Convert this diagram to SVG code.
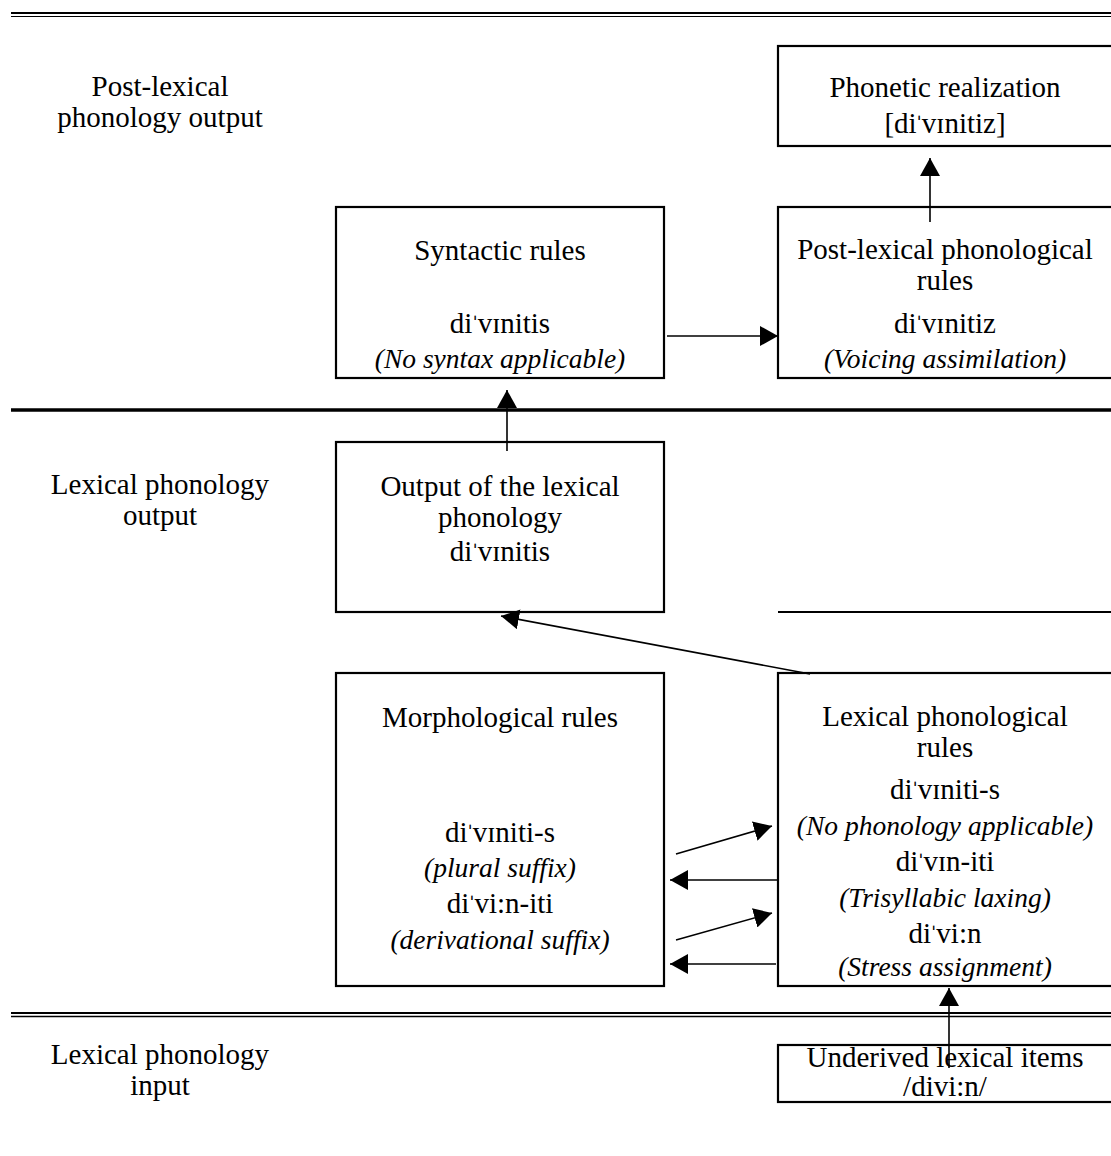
<svg xmlns="http://www.w3.org/2000/svg" width="1111" height="1156" viewBox="0 0 1111 1156">
<defs>
<marker id="ah" markerUnits="userSpaceOnUse" markerWidth="18" markerHeight="20" refX="18" refY="10" orient="auto"><path d="M0,0 L18,10 L0,20 z" fill="#000"/></marker>
</defs>
<style>
.box{fill:#fff;stroke:#000;stroke-width:2.2}
.t{font-family:"Liberation Serif","Times New Roman",serif;font-size:29px;fill:#000;text-anchor:middle}
.i{font-style:italic;font-size:27.5px}
.s{font-family:"DejaVu Serif",serif;font-size:19px}
.c{stroke:#000;stroke-width:1.6;fill:none;marker-end:url(#ah)}
</style>
<rect width="1111" height="1156" fill="#fff"/>
<g id="separators" stroke="#000">
<line x1="11" y1="13" x2="1111" y2="13" stroke-width="2.2"/>
<line x1="11" y1="16.5" x2="1111" y2="16.5" stroke-width="1.2"/>
<line x1="11" y1="410" x2="1111" y2="410" stroke-width="3.6"/>
<line x1="778" y1="612" x2="1111" y2="612" stroke-width="2.2"/>
<line x1="11" y1="1013" x2="1111" y2="1013" stroke-width="2"/>
<line x1="11" y1="1016.5" x2="1111" y2="1016.5" stroke-width="1.4"/>
</g>
<g id="labels">
<text class="t" x="160" y="96">Post-lexical</text>
<text class="t" x="160" y="127">phonology output</text>
<text class="t" x="160" y="494">Lexical phonology</text>
<text class="t" x="160" y="525">output</text>
<text class="t" x="160" y="1064">Lexical phonology</text>
<text class="t" x="160" y="1095">input</text>
</g>
<g id="phonetic">
<rect class="box" x="778" y="46" width="340" height="100"/>
<text class="t" x="945" y="97">Phonetic realization</text>
<text class="t" x="945" y="133">[di<tspan class="s" dy="-3">ˈ</tspan><tspan dy="3">vɪnitiz]</tspan></text>
</g>
<g id="syntactic">
<rect class="box" x="336" y="207" width="328" height="171"/>
<text class="t" x="500" y="260">Syntactic rules</text>
<text class="t" x="500" y="333">di<tspan class="s" dy="-3">ˈ</tspan><tspan dy="3">vɪnitis</tspan></text>
<text class="t i" x="500" y="368">(No syntax applicable)</text>
</g>
<g id="postlexical">
<rect class="box" x="778" y="207" width="340" height="171"/>
<text class="t" x="945" y="259">Post-lexical phonological</text>
<text class="t" x="945" y="290">rules</text>
<text class="t" x="945" y="333">di<tspan class="s" dy="-3">ˈ</tspan><tspan dy="3">vɪnitiz</tspan></text>
<text class="t i" x="945" y="368">(Voicing assimilation)</text>
</g>
<g id="output">
<rect class="box" x="336" y="442" width="328" height="170"/>
<text class="t" x="500" y="496">Output of the lexical</text>
<text class="t" x="500" y="527">phonology</text>
<text class="t" x="500" y="561">di<tspan class="s" dy="-3">ˈ</tspan><tspan dy="3">vɪnitis</tspan></text>
</g>
<g id="morphological">
<rect class="box" x="336" y="673" width="328" height="313"/>
<text class="t" x="500" y="727">Morphological rules</text>
<text class="t" x="500" y="842">di<tspan class="s" dy="-3">ˈ</tspan><tspan dy="3">vɪniti-s</tspan></text>
<text class="t i" x="500" y="877">(plural suffix)</text>
<text class="t" x="500" y="913">di<tspan class="s" dy="-3">ˈ</tspan><tspan dy="3">vi:n-iti</tspan></text>
<text class="t i" x="500" y="949">(derivational suffix)</text>
</g>
<g id="lexicalphon">
<rect class="box" x="778" y="673" width="340" height="313"/>
<text class="t" x="945" y="726">Lexical phonological</text>
<text class="t" x="945" y="757">rules</text>
<text class="t" x="945" y="799">di<tspan class="s" dy="-3">ˈ</tspan><tspan dy="3">vɪniti-s</tspan></text>
<text class="t i" x="945" y="835">(No phonology applicable)</text>
<text class="t" x="945" y="871">di<tspan class="s" dy="-3">ˈ</tspan><tspan dy="3">vɪn-iti</tspan></text>
<text class="t i" x="945" y="907">(Trisyllabic laxing)</text>
<text class="t" x="945" y="943">di<tspan class="s" dy="-3">ˈ</tspan><tspan dy="3">vi:n</tspan></text>
<text class="t i" x="945" y="976">(Stress assignment)</text>
</g>
<g id="underived">
<rect class="box" x="778" y="1045" width="340" height="57"/>
<text class="t" x="945" y="1067">Underived lexical items</text>
<text class="t" x="945" y="1096">/divi:n/</text>
</g>
<g id="connectors">
<line class="c" x1="930" y1="222" x2="930" y2="158"/>
<line class="c" x1="667" y1="336" x2="778" y2="336"/>
<line class="c" x1="507" y1="451" x2="507" y2="390"/>
<line class="c" x1="810" y1="674" x2="501" y2="616"/>
<line class="c" x1="676" y1="854" x2="772" y2="826"/>
<line class="c" x1="778" y1="880" x2="670" y2="880"/>
<line class="c" x1="676" y1="940" x2="772" y2="913"/>
<line class="c" x1="776" y1="964" x2="670" y2="964"/>
<line class="c" x1="949" y1="1068" x2="949" y2="988"/>
</g>
</svg>
